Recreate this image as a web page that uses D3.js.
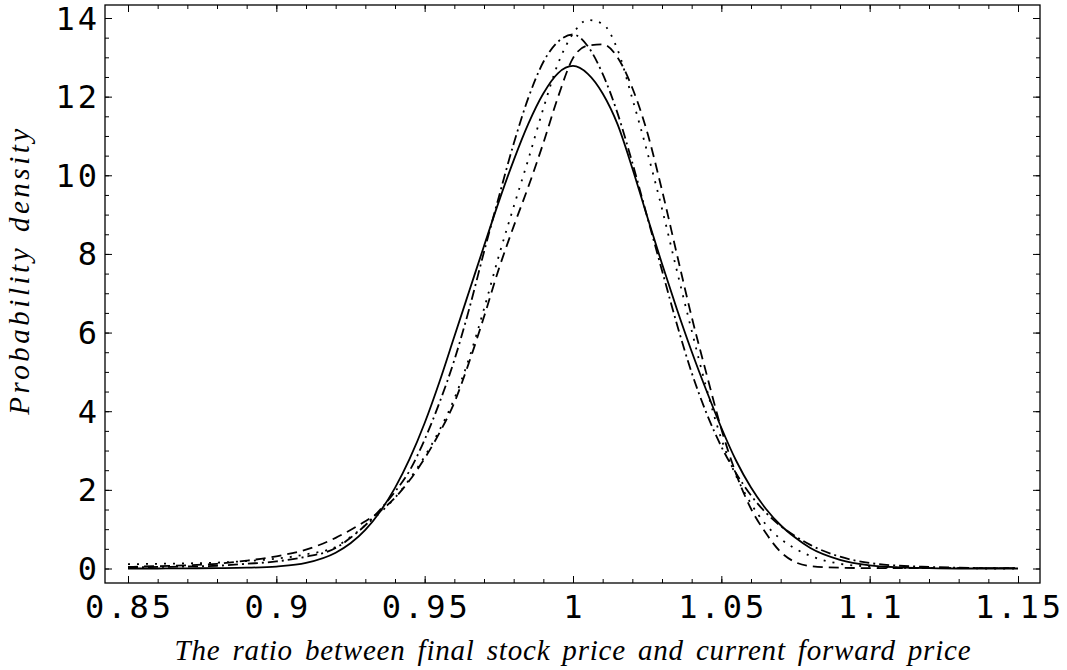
<!DOCTYPE html>
<html>
<head>
<meta charset="utf-8">
<script src="https://cdn.jsdelivr.net/npm/d3@7"></script>
<style>
  body { margin: 0; background: #fff; }
  .tick-label { font-family: "DejaVu Sans Mono", "Liberation Mono", monospace; font-size: 32px; letter-spacing: 3px; fill: #000; }
  .title { font-family: "Liberation Serif", "Times New Roman", serif; font-style: italic; font-size: 29px; fill: #000; }
</style>
</head>
<body>
<svg></svg>
<script>
// ratio S_T / F (common grid for all four curves)
const ratio = [
    0.85, 0.86, 0.87, 0.88, 0.89, 0.90, 0.91, 0.92, 0.925, 0.93, 0.935, 0.94, 0.945,
    0.95, 0.955, 0.96, 0.965, 0.97, 0.975, 0.98, 0.985, 0.99, 0.995, 1.0, 1.005,
    1.01, 1.015, 1.02, 1.025, 1.03, 1.035, 1.04, 1.045, 1.05, 1.055, 1.06, 1.065,
    1.07, 1.075, 1.08, 1.09, 1.10, 1.11, 1.12, 1.13, 1.14, 1.15
];

// density, one list per line style
const solid = [
    0.00, 0.00, 0.005, 0.01, 0.02, 0.05, 0.14, 0.40, 0.64, 0.98, 1.45, 2.05, 2.80,
    3.70, 4.75, 5.90, 7.05, 8.20, 9.33, 10.38, 11.32, 12.08, 12.60, 12.78, 12.58,
    12.08, 11.30, 10.18, 8.95, 7.75, 6.60, 5.52, 4.52, 3.58, 2.74, 2.06, 1.52,
    1.10, 0.78, 0.52, 0.22, 0.08, 0.03, 0.01, 0.00, 0.00, 0.00
];
const dashDot = [
    0.03, 0.04, 0.05, 0.07, 0.12, 0.18, 0.30, 0.52, 0.78, 1.10, 1.50, 1.95, 2.50,
    3.28, 4.22, 5.30, 6.60, 8.05, 9.45, 10.80, 11.98, 12.88, 13.40, 13.58, 13.28,
    12.58, 11.58, 10.32, 8.95, 7.58, 6.22, 4.98, 3.95, 3.10, 2.42, 1.86, 1.42,
    1.08, 0.82, 0.60, 0.30, 0.14, 0.07, 0.04, 0.02, 0.01, 0.01
];
const dotted = [
    0.11, 0.12, 0.13, 0.15, 0.19, 0.25, 0.36, 0.55, 0.80, 1.10, 1.42, 1.80, 2.28,
    2.85, 3.52, 4.32, 5.35, 6.60, 7.95, 9.20, 10.42, 11.70, 12.85, 13.60, 13.95,
    13.85, 13.20, 11.95, 10.60, 9.15, 7.58, 6.05, 4.58, 3.30, 2.35, 1.65, 1.12,
    0.75, 0.50, 0.32, 0.12, 0.05, 0.02, 0.01, 0.01, 0.00, 0.00
];
const dashed = [
    0.04, 0.06, 0.08, 0.12, 0.20, 0.31, 0.48, 0.78, 0.98, 1.20, 1.46, 1.80, 2.25,
    2.80, 3.45, 4.22, 5.25, 6.40, 7.62, 8.70, 9.72, 10.82, 12.00, 12.98, 13.30,
    13.33, 13.00, 12.22, 11.10, 9.62, 8.00, 6.40, 4.95, 3.55, 2.40, 1.52, 0.90,
    0.42, 0.16, 0.06, 0.02, 0.01, 0.01, 0.01, 0.01, 0.01, 0.01
];

const xTicks = [0.85, 0.9, 0.95, 1, 1.05, 1.1, 1.15];
const xTickLabels = ["0.85", "0.9", "0.95", "1", "1.05", "1.1", "1.15"];
const yTicks = [0, 2, 4, 6, 8, 10, 12, 14];

const width = 1067, height = 670;
const frame = { left: 105, right: 1040, top: 5, bottom: 583 };

const svg = d3.select("svg")
    .attr("width", width)
    .attr("height", height);

const x = d3.scaleLinear().domain([0.85, 1.15]).range([128, 1018]);
const y = d3.scaleLinear().domain([0, 14]).range([568.5, 18]);

const xMinor = d3.range(85, 116).map(d => d / 100);
const yMinor = d3.range(0, 29).map(d => d / 2);

// ticks, pointing inward on all four sides
function tickAxis(axis, transform) {
    const g = svg.append("g").attr("transform", transform).call(axis);
    g.select(".domain").remove();
    g.selectAll("text").remove();
    g.selectAll("line").attr("stroke", "#000").attr("stroke-width", 1);
    return g;
}
tickAxis(d3.axisBottom(x).tickValues(xMinor).tickSize(-4), `translate(0,${frame.bottom})`);
tickAxis(d3.axisBottom(x).tickValues(xTicks).tickSize(-7), `translate(0,${frame.bottom})`);
tickAxis(d3.axisTop(x).tickValues(xMinor).tickSize(-4), `translate(0,${frame.top})`);
tickAxis(d3.axisTop(x).tickValues(xTicks).tickSize(-7), `translate(0,${frame.top})`);
tickAxis(d3.axisLeft(y).tickValues(yMinor).tickSize(-4), `translate(${frame.left},0)`);
tickAxis(d3.axisLeft(y).tickValues(yTicks).tickSize(-7), `translate(${frame.left},0)`);
tickAxis(d3.axisRight(y).tickValues(yMinor).tickSize(-4), `translate(${frame.right},0)`);
tickAxis(d3.axisRight(y).tickValues(yTicks).tickSize(-7), `translate(${frame.right},0)`);

svg.append("rect")
    .attr("x", frame.left).attr("y", frame.top)
    .attr("width", frame.right - frame.left).attr("height", frame.bottom - frame.top)
    .attr("fill", "none").attr("stroke", "#000").attr("stroke-width", 1.3);

svg.selectAll(".xlab")
    .data(xTicks)
    .enter().append("text")
    .attr("class", "tick-label")
    .attr("x", d => x(d) + 1.5)
    .attr("y", 618)
    .attr("text-anchor", "middle")
    .text((d, i) => xTickLabels[i]);

svg.selectAll(".ylab")
    .data(yTicks)
    .enter().append("text")
    .attr("class", "tick-label")
    .attr("x", 100)
    .attr("y", d => y(d) + 11.5)
    .attr("text-anchor", "end")
    .text(d => d);

// curves
const series = [
    { values: solid, dash: null },
    { values: dashDot, dash: "10,4,2,4" },
    { values: dotted, dash: "2,7" },
    { values: dashed, dash: "10,6" }
];

const line = d3.line()
    .x(d => x(d[0]))
    .y(d => y(d[1]))
    .curve(d3.curveMonotoneX);

svg.selectAll(".curve")
    .data(series)
    .enter().append("path")
    .attr("class", "curve")
    .attr("d", s => line(ratio.map((r, i) => [r, s.values[i]])))
    .attr("fill", "none")
    .attr("stroke", "#000")
    .attr("stroke-width", 1.8)
    .attr("stroke-dasharray", s => s.dash);

// axis titles, spread to the width seen in the picture
function spreadTo(sel, target, wordGap) {
    const text = sel.text();
    sel.attr("word-spacing", wordGap);
    const w = sel.node().getComputedTextLength();
    sel.attr("letter-spacing", Math.max(0, (target - w) / (text.length - 1)));
}

const xTitle = svg.append("text")
    .attr("class", "title")
    .attr("x", 573)
    .attr("y", 660)
    .attr("text-anchor", "middle")
    .text("The ratio between final stock price and current forward price");
spreadTo(xTitle, 796, 4);

const yTitle = svg.append("text")
    .attr("class", "title")
    .attr("transform", "translate(29,270) rotate(-90)")
    .attr("text-anchor", "middle")
    .text("Probability density");
spreadTo(yTitle, 286, 2);
</script>
</body>
</html>
